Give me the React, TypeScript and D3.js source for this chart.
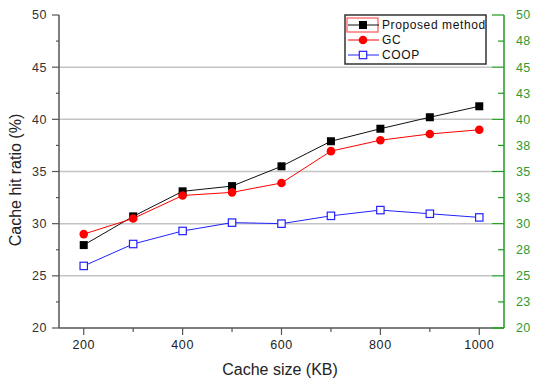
import React from "react";
import * as d3 from "d3";

// values
const cacheSizes = [200, 300, 400, 500, 600, 700, 800, 900, 1000];
const proposed = [27.95, 30.7, 33.1, 33.6, 35.5, 37.9, 39.1, 40.2, 41.25];
const gc = [29.0, 30.5, 32.7, 33.0, 33.9, 36.95, 38.0, 38.6, 39.0];
const coop = [25.95, 28.05, 29.3, 30.1, 30.0, 30.75, 31.3, 30.95, 30.6];

const xTickLabels = ["200", "400", "600", "800", "1000"];
const leftTicks = [20, 25, 30, 35, 40, 45, 50];
const rightTicks = [20, 22.5, 25, 27.5, 30, 32.5, 35, 37.5, 40, 42.5, 45, 47.5, 50];
const rightTickLabels = ["20", "23", "25", "28", "30", "33", "35", "38", "40", "43", "45", "48", "50"];

const W = 534;
const H = 380;
const margin = { top: 15, right: 30, bottom: 52, left: 59 };
const green = "#1f9a1f";
const axisGray = "#555";
const font = "'Liberation Sans', Arial, sans-serif";

const App = () => {
  const x = d3.scaleLinear().domain([150, 1050]).range([margin.left, W - margin.right]);
  const y = d3.scaleLinear().domain([20, 50]).range([H - margin.bottom, margin.top]);
  const x0 = x.range()[0];
  const x1 = x.range()[1];
  const yb = y(20);
  const yt = y(50);

  const line = d3
    .line<number>()
    .x((d, i) => x(cacheSizes[i]))
    .y((d) => y(d));

  const series = [
    { name: "Proposed method", values: proposed, color: "#111", shape: "square" },
    { name: "GC", values: gc, color: "#ff0000", shape: "circle" },
    { name: "COOP", values: coop, color: "#2222ff", shape: "open" },
  ];

  const marker = (shape: string, color: string, cx: number, cy: number, key: any) => {
    if (shape === "square")
      return <rect key={key} x={cx - 4} y={cy - 4} width={8} height={8} fill="#000" />;
    if (shape === "circle") return <circle key={key} cx={cx} cy={cy} r={4.3} fill="#ff0000" />;
    return (
      <rect key={key} x={cx - 3.7} y={cy - 3.7} width={7.4} height={7.4} fill="#fff" stroke={color} strokeWidth={1.2} />
    );
  };

  const minorY = d3.range(22.5, 50, 5);
  const lx = 345;
  const ly = 15;

  return (
    <svg
      width={W}
      height={H}
      style={{ position: "fixed", left: 0, top: 0, background: "#fff" }}
      fontFamily={font}
    >
      {/* grid */}
      {[25, 30, 35, 40, 45].map((v) => (
        <line key={"g" + v} x1={x0} x2={x1 - 12} y1={y(v)} y2={y(v)} stroke="#c4c4c4" strokeWidth={1.5} />
      ))}

      {/* left axis */}
      <line x1={x0} x2={x0} y1={yt} y2={yb} stroke={axisGray} strokeWidth={1.5} />
      {leftTicks.map((v) => (
        <g key={"l" + v}>
          <line x1={x0 - 7} x2={x0} y1={y(v)} y2={y(v)} stroke={axisGray} strokeWidth={1.2} />
          <text x={47} y={y(v)} dy="0.35em" textAnchor="end" fontSize={12.5} fill="#333" letterSpacing={0.6}>
            {v}
          </text>
        </g>
      ))}
      {minorY.map((v) => (
        <line key={"lm" + v} x1={x0 - 3} x2={x0} y1={y(v)} y2={y(v)} stroke={axisGray} strokeWidth={1.2} />
      ))}

      {/* bottom axis */}
      <line x1={x0} x2={x1 - 12} y1={yb} y2={yb} stroke={axisGray} strokeWidth={1.5} />
      <line x1={x1 - 12} x2={x1} y1={yb} y2={yb} stroke={green} strokeWidth={1.5} />
      {cacheSizes.map((v, i) => (
        <line
          key={"xt" + v}
          x1={x(v)}
          x2={x(v)}
          y1={yb}
          y2={yb + (i % 2 === 0 ? 7 : 4)}
          stroke={axisGray}
          strokeWidth={1.2}
        />
      ))}
      {xTickLabels.map((t) => (
        <text key={"xl" + t} x={x(+t)} y={345} dy="0.35em" textAnchor="middle" fontSize={12.5} fill="#222" letterSpacing={0.6}>
          {t}
        </text>
      ))}

      {/* right axis */}
      <line x1={x1} x2={x1} y1={yt} y2={yb} stroke={green} strokeWidth={1.5} />
      {rightTicks.map((v, i) => (
        <g key={"r" + v}>
          <line x1={x1 - (i % 2 === 0 ? 12 : 6)} x2={x1} y1={y(v)} y2={y(v)} stroke={green} strokeWidth={1.2} />
          <text x={516} y={y(v)} dy="0.35em" fontSize={12.5} fill="#2f9a2f" letterSpacing={0.3}>
            {rightTickLabels[i]}
          </text>
        </g>
      ))}

      {/* series */}
      {series.map((s) => (
        <g key={s.name}>
          <path d={line(s.values) || ""} fill="none" stroke={s.color} strokeWidth={1} />
          {s.values.map((v, i) => marker(s.shape, s.color, x(cacheSizes[i]), y(v), i))}
        </g>
      ))}

      {/* legend */}
      <rect x={lx} y={ly} width={141} height={49} fill="#fff" stroke="#333" strokeWidth={1.5} />
      <rect x={lx + 2} y={ly + 3} width={31} height={14} fill="none" stroke="#ff5555" strokeWidth={1.2} />
      {series.map((s, i) => {
        const cy = ly + 10 + i * 15;
        return (
          <g key={"lg" + s.name}>
            <line x1={lx + 3} x2={lx + 34} y1={cy} y2={cy} stroke={s.color} strokeWidth={1} />
            {marker(s.shape, s.color, lx + 18, cy, "m")}
            <text x={lx + 37} y={cy} dy="0.35em" fontSize={12} fill="#111" letterSpacing={0.6}>
              {s.name}
            </text>
          </g>
        );
      })}

      {/* titles */}
      <text x={280} y={369} dy="0.35em" textAnchor="middle" fontSize={16} fill="#222">
        Cache size (KB)
      </text>
      <text
        transform={`translate(15,${180}) rotate(-90)`}
        textAnchor="middle"
        dy="0.35em"
        fontSize={16}
        fill="#222"
      >
        Cache hit ratio (%)
      </text>
    </svg>
  );
};

export default App;
